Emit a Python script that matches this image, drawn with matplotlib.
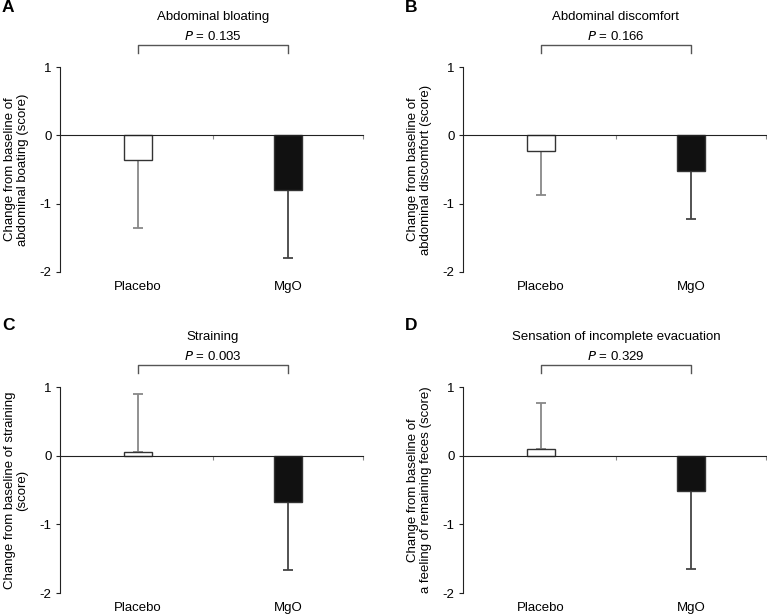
import numpy as np
import matplotlib.pyplot as plt

plt.rcParams['font.family'] = ['Liberation Sans', 'DejaVu Sans']

groups = ['Placebo', 'MgO']
panels = ['A', 'B', 'C', 'D']
titles = ['Abdominal bloating', 'Abdominal discomfort', 'Straining',
          'Sensation of incomplete evacuation']
pvalues = ['0.135', '0.166', '0.003', '0.329']
ylabels = ['Change from baseline of\nabdominal boating (score)',
           'Change from baseline of\nabdominal discomfort (score)',
           'Change from baseline of straining\n(score)',
           'Change from baseline of\na feeling of remaining feces (score)']
placebo_mean = [-0.36, -0.23, 0.06, 0.10]
placebo_sd = [1.00, 0.65, 0.84, 0.66]
mgo_mean = [-0.80, -0.52, -0.67, -0.51]
mgo_sd = [1.00, 0.71, 0.99, 1.14]
yticks = [1, 0, -1, -2]

W, H = 767, 614
fig = plt.figure(figsize=(W / 100, H / 100), dpi=100)

# axes boxes in pixels: left, top, right, bottom
boxes = [(60, 67, 363, 272), (463, 67, 766, 272),
         (60, 387, 363, 593), (463, 387, 766, 593)]
# panel letter positions in pixels
letters = [(2, 8), (405, 8), (2, 325), (405, 325)]

for i in range(4):
    l, t, r, b = boxes[i]
    ax = fig.add_axes([l / W, 1 - b / H, (r - l) / W, (b - t) / H])
    means = [placebo_mean[i], mgo_mean[i]]
    sds = [placebo_sd[i], mgo_sd[i]]
    x = np.arange(2)
    ax.bar(x, means, width=0.185, color=['white', '#111111'],
           edgecolor='#333333', linewidth=1.0, zorder=2)
    ecolors = ['#888888', '#444444']
    for j in range(2):
        if means[j] < 0:
            yerr = [[sds[j]], [0]]
        else:
            yerr = [[0], [sds[j]]]
        ax.errorbar(x[j], means[j], yerr=yerr, fmt='none', ecolor=ecolors[j],
                    elinewidth=1.3, capsize=3.5, capthick=1.3, zorder=1)

    ax.set_xlim(-0.52, 1.5)
    ax.set_ylim(-2, 1)
    ax.spines['top'].set_visible(False)
    ax.spines['right'].set_visible(False)
    ax.spines['bottom'].set_position(('data', 0))
    ax.spines['bottom'].set_color('#222222')
    ax.spines['left'].set_color('#222222')
    ax.set_xticks([0.5, 1.5])
    ax.set_xticklabels([])
    ax.tick_params(axis='x', direction='out', length=3, color='#888888')
    ax.set_yticks(yticks)
    ax.set_yticklabels(['1', '0', '-1', '-2'])
    ax.tick_params(axis='y', direction='out', length=3, labelsize=9.5,
                   color='#222222', pad=3)
    ax.set_ylabel(ylabels[i], fontsize=9.5, labelpad=8, linespacing=1.05)

    for j in range(2):
        ax.text(x[j], -2.22, groups[j], ha='center', va='center', fontsize=9.5,
                clip_on=False)

    # significance bracket
    ax.plot([0, 0, 1, 1], [1.2, 1.32, 1.32, 1.2], color='#555555', lw=1,
            clip_on=False)
    ax.text(0.5, 1.44, r'$\it{P}$ = ' + pvalues[i], ha='center', va='center',
            fontsize=9.5)
    ax.text(0.5, 1.73, titles[i], ha='center', va='center', fontsize=9.5)

    lx, ly = letters[i]
    fig.text(lx / W, 1 - ly / H, panels[i], fontsize=12.5,
             fontweight='bold', ha='left', va='center')

fig.savefig('out.png', dpi=100)
